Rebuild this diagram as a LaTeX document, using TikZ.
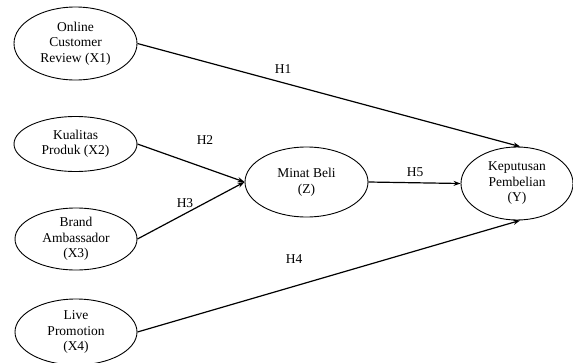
\documentclass[tikz,border=0pt]{standalone}
\usepackage{fontspec}
\setmainfont{Liberation Serif}
\usetikzlibrary{arrows.meta,shapes.geometric}

\tikzset{
  construct/.style={ellipse, draw=black, line width=0.9pt, inner sep=0pt,
    align=center, font=\fontsize{13.5}{15.5}\selectfont},
  hpath/.style={draw=black, line width=1.2pt, -{Stealth[length=7pt,width=5pt]}},
  hyp/.style={inner sep=0pt, font=\fontsize{13.5}{15.5}\selectfont}
}

\begin{document}
\begin{tikzpicture}[x=1pt, y=-1pt]
  \useasboundingbox (0,0) rectangle (573,362);

  % exogenous constructs
  \node[construct, minimum width=123pt, minimum height=73pt] (x1) at (75.5,43.5)
    {Online\\Customer\\Review (X1)};
  \node[construct, minimum width=123pt, minimum height=55pt] (x2) at (75.5,144)
    {Kualitas\\Produk (X2)};
  \node[construct, minimum width=122pt, minimum height=62pt] (x3) at (76,239)
    {Brand\\Ambassador\\(X3)};
  \node[construct, minimum width=122pt, minimum height=66pt] (x4) at (76,332)
    {Live\\Promotion\\(X4)};

  % mediator and outcome
  \node[construct, minimum width=123pt, minimum height=70pt] (z) at (306.5,182)
    {Minat Beli\\(Z)};
  \node[construct, minimum width=112pt, minimum height=73pt] (y) at (517,183.5)
    {Keputusan\\Pembelian\\(Y)};

  % hypothesised paths
  \draw[hpath] (x1.east) -- (y.85);
  \draw[hpath] (x2.east) -- (z.west);
  \draw[hpath] (x3.east) -- (z.west);
  \draw[hpath] (x4.east) -- (y.-85);
  \draw[hpath] (z.east) -- (y.west);

  % path labels
  \node[hyp] (h1) at (283,69) {H1};
  \node[hyp] (h2) at (205,140) {H2};
  \node[hyp] (h3) at (185,203) {H3};
  \node[hyp] (h4) at (294,259) {H4};
  \node[hyp] (h5) at (415,172) {H5};
\end{tikzpicture}
\end{document}
